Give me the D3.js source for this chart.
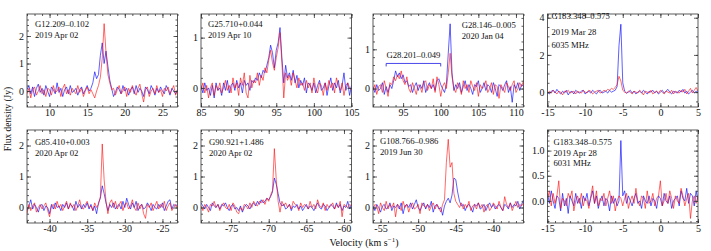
<!DOCTYPE html>
<html>
  <head>
    <meta charset="UTF-8" />
    <script src="https://d3js.org/d3.v7.min.js"></script>
    <style>
      body { margin: 0; background: #fff; }
      svg text { font-family: "Liberation Serif", "Times New Roman", Times, "DejaVu Serif", serif !important; fill: #111; }
    </style>
  </head>
  <body>
    <div id="chart"></div>

    <script>
      // channel grid: first velocity of each panel, channel width 0.25 km/s
      var chanWidth = 0.25;
      var vStart = [7, 85, 91, -15, -43, -79, -56, -15];
      var xDomains = [[7, 27], [85, 105], [91, 111], [-15, 5], [-43, -23], [-79, -59], [-56, -36], [-15, 5]];
      var yDomains = [[-0.58, 2.8], [-0.38, 1.47], [-0.47, 1.9], [-0.8, 4.2], [-0.5, 2.5], [-0.5, 2.5], [-0.5, 2.5], [-0.44, 1.41]];
      var yMajor = [[0, 1, 2], [0, 1], [0, 1], [0, 2, 4], [0, 1, 2], [0, 1, 2], [0, 1, 2], [0, 0.5, 1.0]];
      var yMinorStep = [0.2, 0.2, 0.2, 0.5, 0.2, 0.2, 0.2, 0.1];

      var sourceNames = ["G12.209\u20130.102", "G25.710+0.044", "G28.146\u20130.005", "G183.348\u20130.575",
                         "G85.410+0.003", "G90.921+1.486", "G108.766\u20130.986", "G183.348\u20130.575"];
      var obsDates = ["2019 Apr 02", "2019 Apr 10", "2020 Jan 04", "2019 Mar 28",
                      "2020 Apr 02", "2020 Apr 02", "2019 Jun 30", "2019 Apr 28"];
      var freqNotes = ["", "", "", "6035 MHz", "", "", "", "6031 MHz"];

      // blue spectra (Jy)
      var blue1 = [0.05,0.2,-0.1,0.15,-0.2,0.1,0.25,-0.05,0.1,-0.15, 0.2,0.0,-0.2,0.15,0.05,-0.1,0.3,-0.05,0.1,-0.2,
        0.05,0.15,-0.1,0.2,-0.05,0.0,0.1,-0.15,0.05,0.15, -0.1,0.05,0.2,0.0,0.1,0.3, 0.7,0.45,0.6,1.3,1.75,1.0,1.45,0.9,0.4,0.1,
        -0.2,-0.05,0.15,0.05,-0.1,0.2,0.0,0.1,-0.15,0.05, 0.15,-0.1,0.2,-0.05,0.1,0.0,-0.2,0.15,0.05,-0.1,
        0.2,0.05,-0.15,0.1,-0.05,0.15,0.0,-0.1,0.2,0.05, -0.15,0.1,0.0,-0.1,0.05];
      var blue2 = [0.05,-0.1,0.1,-0.05,0.0,-0.15,0.05,-0.2,0.1,-0.05, 0.0,-0.15,0.1,-0.05,0.15,-0.1,0.05,0.1,-0.05,0.15,
        0.0,0.1,-0.1,0.15,0.05,0.1,-0.05,0.15,0.1,0.2, 0.15,0.3,0.2,0.35,0.3,0.45,0.6,0.85,0.7,0.4,
        0.75,0.9,1.2,0.6,0.1,0.45,0.2,0.3,0.15,0.35, 0.1,0.25,0.0,0.15,0.05,0.2,-0.1,0.1,0.05,-0.05,
        0.1,-0.1,0.05,0.15,-0.05,0.0,0.1,-0.15,0.05,0.2, -0.05,0.1,0.0,0.15,-0.1,0.05,0.3,-0.05,0.1,-0.15, 0.05];
      var blue3 = [0.05,-0.1,0.1,-0.05,0.0,0.15,-0.15,0.05,-0.1,0.1, 0.0,0.2,0.45,0.3,0.4,0.25,0.35,0.15,0.2,0.05,
        0.1,-0.1,0.05,0.15,-0.05,0.1,0.0,0.2,-0.1,0.05, 0.15,0.0,0.1,-0.05,0.2,0.25,0.1,0.0,-0.1,0.1,
        0.9,1.65,0.4,-0.05,0.1,0.0,0.15,-0.1,0.05,0.2, -0.05,0.1,0.0,-0.15,0.1,0.05,0.2,-0.1,0.0,0.15,
        -0.05,0.1,0.05,-0.1,0.15,0.0,-0.2,0.1,0.05,-0.05, 0.1,0.2,-0.1,0.05,-0.35,0.1,0.0,0.15,-0.05,0.1, 0.05];
      var blue4 = [0.0,-0.1,0.05,0.1,-0.05,0.15,0.0,-0.1,0.05,-0.05, 0.1,-0.15,0.0,0.05,-0.1,0.1,0.0,-0.05,0.05,0.1,
        -0.1,0.0,0.05,-0.05,0.1,0.0,-0.1,0.05,0.1,-0.05, 0.0,0.05,-0.05,0.1,0.0,0.05,0.1,0.3,2.5,3.65,
        0.5,0.05,-0.05,0.0,0.1,-0.05,0.05,-0.1,0.0,0.05, -0.05,0.1,0.0,-0.1,0.05,0.0,0.1,-0.05,0.05,-0.1,
        0.0,0.1,-0.05,0.05,0.15,0.0,-0.1,0.05,0.0,-0.05, 0.1,0.0,0.15,-0.05,0.05,-0.1,0.0,0.1,-0.05,0.05, 0.0];
      var blue5 = [-0.1,0.05,0.25,-0.05,0.1,0.0,-0.15,0.05,0.1,-0.1, 0.05,0.0,-0.2,0.1,-0.05,0.15,0.0,0.05,-0.1,0.1,
        0.0,0.15,-0.05,0.1,0.05,-0.1,0.2,0.0,0.1,-0.05, 0.1,0.0,0.15,-0.05,0.1,-0.1,0.05,-0.2,0.15,0.3,
        0.7,0.45,0.15,-0.1,0.1,0.0,0.15,-0.05,0.05,0.1, -0.05,0.2,0.0,0.3,0.1,-0.05,0.15,0.0,0.2,-0.1,
        0.05,0.1,-0.05,0.0,0.15,0.05,-0.1,0.1,0.0,-0.05, 0.1,0.0,0.15,-0.1,0.05,0.2,0.25,-0.05,0.1,0.05, 0.1];
      var blue6 = [0.15,0.05,-0.05,0.1,0.0,-0.1,0.15,0.05,0.0,0.1, -0.05,0.1,0.05,0.15,0.0,-0.1,0.05,0.1,-0.05,0.0,
        -0.1,0.05,-0.15,0.0,0.1,0.05,-0.05,0.1,0.15,0.05, 0.2,0.1,0.25,0.15,0.2,0.3,0.25,0.35,0.5,0.95,
        0.75,0.45,0.15,0.05,0.1,-0.05,0.0,0.1,-0.1,0.05, 0.0,0.1,-0.05,0.05,-0.1,0.0,0.1,-0.05,0.05,0.0,
        -0.1,0.05,0.15,0.0,-0.05,0.1,0.05,-0.1,0.0,0.1, 0.05,-0.05,0.15,0.0,0.1,-0.1,0.05,0.0,0.2,-0.05, 0.1];
      var blue7 = [0.05,-0.1,0.1,0.0,-0.15,0.05,0.1,-0.05,0.0,0.15, -0.1,0.05,0.0,0.1,-0.05,0.15,-0.2,0.05,0.1,0.0,
        0.15,-0.05,0.1,0.25,0.0,-0.1,0.05,0.15,-0.05,0.1, 0.0,0.2,-0.15,0.05,0.1,-0.05,0.0,-0.25,0.05,0.2,
        0.3,0.15,0.4,0.95,0.9,0.5,0.2,0.05,0.1,-0.1, 0.05,0.1,0.0,-0.15,0.1,0.05,0.15,-0.05,0.0,0.1,
        -0.1,0.05,0.15,0.0,0.1,-0.05,0.05,0.1,0.0,-0.1, 0.1,0.05,-0.05,0.15,0.0,0.1,0.05,0.2,-0.05,0.1, 0.25];
      var blue8 = [0.15,-0.05,0.2,0.0,-0.15,0.1,0.05,-0.2,0.15,-0.1, 0.05,-0.25,0.1,0.0,-0.1,0.15,-0.05,0.05,-0.15,0.1,
        0.0,0.15,-0.1,0.05,0.2,-0.05,0.1,-0.15,0.0,0.1, -0.1,0.05,0.0,-0.2,0.1,-0.05,0.05,-0.1,0.0,1.2,
        0.1,0.2,-0.05,0.1,0.0,-0.1,0.05,0.15,-0.05,0.0, -0.15,0.1,0.0,-0.05,0.1,-0.1,0.05,0.0,-0.15,0.1,
        0.05,-0.1,0.15,0.0,-0.05,0.1,-0.15,0.0,0.05,0.1, -0.1,0.2,0.05,0.0,0.25,-0.05,0.15,0.1,-0.1,0.2, 0.0];

      // red spectra (Jy)
      var red1 = [-0.1,0.1,-0.25,0.05,0.15,-0.15,0.0,0.2,-0.1,0.05, -0.2,0.1,0.05,-0.15,0.2,-0.05,0.0,0.15,-0.2,0.1,
        0.25,-0.1,0.05,-0.15,0.1,0.0,-0.1,0.2,-0.05,0.1, -0.2,0.0,0.15,-0.1,0.05,-0.1, -0.25,0.0,0.2,0.5,1.2,2.45,1.4,0.6,0.3,0.05,
        0.1,-0.15,0.05,0.2,-0.1,0.0,0.15,-0.2,0.1,-0.05, 0.2,0.0,-0.15,0.1,0.25,-0.1,-0.4,0.05,0.15,-0.2,
        0.0,0.1,-0.1,0.2,-0.05,0.05,-0.2,0.1,0.0,0.15, -0.1,0.05,0.2,-0.15,0.05];
      var red2 = [-0.05,0.1,-0.1,0.05,-0.2,0.0,0.1,-0.15,0.05,-0.05, 0.1,-0.1,0.0,0.15,-0.05,0.05,-0.1,0.2,0.0,0.1,
        -0.15,0.2,0.05,0.3,-0.1,-0.2,0.25,0.0,0.15,0.1, 0.3,0.05,0.25,0.15,0.4,0.3,0.55,0.75,0.5,0.35,
        0.6,0.8,1.1,0.5,-0.2,0.3,0.15,0.25,0.05,0.3, 0.15,0.0,0.2,0.05,0.1,-0.05,0.15,0.0,0.1,-0.1,
        0.2,0.0,-0.1,0.1,0.05,-0.15,0.1,-0.05,0.15,0.0, 0.1,-0.1,0.2,0.05,-0.05,0.1,-0.15,0.05,0.1,0.0, -0.05];
      var red3 = [-0.05,0.1,-0.15,0.05,0.1,-0.1,0.2,0.0,-0.2,0.15, 0.1,0.3,0.2,0.35,0.25,0.45,0.2,0.1,0.3,0.0,
        -0.1,0.15,0.0,-0.15,0.1,0.05,-0.1,0.15,0.2,-0.05, 0.1,0.0,0.25,-0.1,0.3,0.1,-0.2,0.05,0.15,0.0,
        0.4,0.9,0.3,0.0,-0.1,0.15,0.05,-0.15,0.2,0.0, 0.1,-0.1,0.2,0.05,-0.05,0.15,-0.2,0.1,0.0,0.05,
        0.2,-0.1,0.0,0.15,-0.15,0.1,0.05,-0.25,0.1,0.0, -0.1,0.15,0.05,-0.05,0.1,0.2,-0.1,0.0,0.15,0.05, 0.2];
      var red4 = [-0.1,0.05,-0.05,0.1,0.0,-0.1,0.05,0.0,-0.15,0.05, 0.0,0.1,-0.05,0.0,0.05,-0.1,0.05,0.0,-0.05,0.1,
        0.0,-0.05,0.1,0.05,-0.1,0.0,0.05,0.1,-0.05,0.0, 0.1,0.05,0.15,0.1,0.2,0.15,0.25,0.4,0.85,0.6,
        0.1,0.0,-0.05,0.05,0.0,-0.1,0.05,0.0,-0.05,0.1, 0.0,-0.15,0.05,0.0,-0.05,0.1,-0.1,0.0,0.05,-0.05,
        0.1,0.0,-0.1,0.05,0.0,-0.05,0.1,-0.1,0.05,0.0, -0.05,0.1,0.0,0.15,-0.1,0.05,0.2,-0.05,0.1,0.25, 0.05];
      var red5 = [-0.2,0.1,-0.1,0.05,0.15,-0.15,0.0,0.1,-0.05,0.05, 0.15,-0.1,-0.3,0.05,0.1,-0.05,0.2,0.0,0.1,-0.1,
        0.05,0.2,-0.05,0.15,0.0,0.1,-0.1,0.05,0.25,0.0, -0.05,0.1,0.2,0.0,0.05,-0.1,0.15,0.0,0.1,0.35,
        2.05,0.9,0.2,-0.2,0.15,0.25,0.0,0.2,-0.05,0.1, 0.2,-0.1,0.1,0.15,-0.05,0.05,0.25,0.0,-0.1,0.15,
        -0.05,0.1,-0.2,-0.35,0.1,0.0,0.15,-0.1,0.05,0.2, -0.05,0.1,0.0,0.2,-0.1,0.05,0.15,-0.1,0.0,0.1, -0.05];
      var red6 = [0.05,-0.1,0.1,0.0,-0.15,0.1,0.05,0.2,0.0,0.1, -0.1,0.05,0.15,0.0,-0.05,0.1,-0.1,0.15,0.05,-0.15,
        -0.2,0.0,-0.1,0.1,0.05,-0.05,0.15,0.0,0.2,0.1, 0.05,0.2,0.15,0.25,0.1,0.3,0.2,0.4,0.55,1.9,
        0.9,0.2,-0.15,0.2,0.05,0.15,0.0,0.1,-0.05,0.2, 0.1,0.05,-0.1,0.15,0.0,0.1,0.05,-0.05,0.2,0.0,
        0.1,-0.05,0.25,0.05,0.0,0.15,-0.1,0.1,0.0,0.05, 0.15,-0.05,0.1,0.0,0.2,-0.3,0.1,0.05,0.0,0.1, 0.05];
      var red7 = [-0.1,0.1,0.05,-0.2,0.15,0.0,-0.1,0.2,-0.05,0.1, 0.0,0.15,-0.3,0.1,0.05,-0.1,0.2,0.0,0.1,-0.15,
        0.05,0.15,-0.05,0.0,0.1,-0.2,0.15,0.05,0.0,0.1, -0.1,0.05,0.15,-0.05,0.1,0.0,-0.15,0.1,0.25,1.45,
        2.2,1.3,1.45,0.45,0.2,0.1,0.0,0.15,-0.05,0.1, 0.0,0.2,-0.1,0.05,0.1,-0.05,0.15,0.0,0.1,-0.15,
        0.05,0.1,-0.1,0.0,0.15,0.05,-0.05,0.2,0.0,-0.1, 0.35,0.1,0.0,0.15,-0.1,0.05,0.2,0.0,0.1,0.05, 0.15];
      var red8 = [0.05,0.2,-0.1,0.15,-0.05,0.1,0.4,-0.15,0.05,0.0, -0.1,0.15,0.05,0.2,-0.2,0.0,0.1,-0.05,0.15,-0.1,
        0.05,0.0,-0.15,0.1,0.3,-0.05,0.2,-0.1,0.05,0.0, 0.15,-0.1,0.05,0.2,-0.05,0.1,-0.2,0.0,0.1,0.05,
        -0.1,0.05,0.15,-0.15,0.0,0.1,-0.05,0.25,0.0,-0.1, 0.1,0.05,-0.15,0.2,-0.05,0.0,0.15,-0.1,0.05,0.1,
        0.4,-0.1,0.0,0.15,-0.05,0.2,0.05,-0.15,0.1,0.0, -0.05,0.25,0.1,-0.1,0.05,0.15,-0.35,0.0,0.1,-0.05, 0.1];

      var blueSpectra = [blue1, blue2, blue3, blue4, blue5, blue6, blue7, blue8];
      var redSpectra = [red1, red2, red3, red4, red5, red6, red7, red8];

      // second source marked in the G28.146 panel
      var bracketName = "G28.201\u20130.049";
      var bracketRange = [92.75, 100];
      var bracketLevel = 0.64;

      // layout
      var W = 711, H = 251;
      var colLeft = [27, 201, 373, 547.5];
      var rowTop = [14, 130];
      var pw = 150.5, ph = 93;
      var labelSize = 8.7;
      // label placement per panel: x offset from panel left, baselines relative to panel top
      var labelPos = [
        { x: 8, lines: [13, 24] },
        { x: 7, lines: [13, 23.5] },
        { x: 88.7, lines: [14, 25] },
        { x: 4, lines: [5, 20.5, 34] },
        { x: 8, lines: [14.5, 25.5] },
        { x: 8, lines: [14.5, 26] },
        { x: 7, lines: [13.5, 25] },
        { x: 6, lines: [14.5, 25.5, 36] },
      ];

      var blueColor = "rgba(0,0,255,0.7)";
      var redColor = "rgba(255,0,0,0.65)";
      var frameColor = "#333";

      var svg = d3.select("#chart").append("svg")
        .attr("width", W).attr("height", H);

      svg.append("rect").attr("width", W).attr("height", H).attr("fill", "#fff");

      var fmtPlain = function (d) { return String(d); };
      var fmtOne = function (d) { return d.toFixed(1); };

      for (var p = 0; p < 8; p++) {
        var panelX = colLeft[p % 4], panelY = rowTop[Math.floor(p / 4)];
        var g = svg.append("g").attr("transform", "translate(" + panelX + "," + panelY + ")");

        var x = d3.scaleLinear().domain(xDomains[p]).range([0, pw]);
        var y = d3.scaleLinear().domain(yDomains[p]).range([ph, 0]);

        var xMajorTicks = d3.range(Math.ceil(xDomains[p][0] / 5) * 5, xDomains[p][1] + 0.001, 5);
        var xMinorTicks = d3.range(Math.ceil(xDomains[p][0]), xDomains[p][1] + 0.001, 1);
        var yMinorTicks = d3.range(Math.ceil(yDomains[p][0] / yMinorStep[p]) * yMinorStep[p], yDomains[p][1], yMinorStep[p])
          .map(function (v) { return +v.toFixed(3); });
        var yFmt = p === 7 ? fmtOne : fmtPlain;

        var clipId = "clip" + p;
        g.append("clipPath").attr("id", clipId).append("rect")
          .attr("width", pw).attr("height", ph);

        var line = d3.line()
          .x(function (d, i) { return x(vStart[p] + i * chanWidth); })
          .y(function (d) { return y(d); });

        var plot = g.append("g").attr("clip-path", "url(#" + clipId + ")");
        plot.append("path").datum(blueSpectra[p])
          .attr("fill", "none").attr("stroke", blueColor).attr("stroke-width", 0.9)
          .attr("stroke-linejoin", "round").attr("d", line);
        plot.append("path").datum(redSpectra[p])
          .attr("fill", "none").attr("stroke", redColor).attr("stroke-width", 0.9)
          .attr("stroke-linejoin", "round").attr("d", line);

        // axes, ticks pointing inward on all four sides
        var axes = [
          { ax: d3.axisBottom(x).tickValues(xMajorTicks).tickSize(-4).tickPadding(2).tickFormat(fmtPlain), t: "translate(0," + ph + ")" },
          { ax: d3.axisBottom(x).tickValues(xMinorTicks).tickSize(-2).tickFormat(""), t: "translate(0," + ph + ")" },
          { ax: d3.axisTop(x).tickValues(xMajorTicks).tickSize(-4).tickFormat(""), t: "translate(0,0)" },
          { ax: d3.axisTop(x).tickValues(xMinorTicks).tickSize(-2).tickFormat(""), t: "translate(0,0)" },
          { ax: d3.axisLeft(y).tickValues(yMajor[p]).tickSize(-4).tickPadding(3).tickFormat(yFmt), t: "translate(0,0)" },
          { ax: d3.axisLeft(y).tickValues(yMinorTicks).tickSize(-2).tickFormat(""), t: "translate(0,0)" },
          { ax: d3.axisRight(y).tickValues(yMajor[p]).tickSize(-4).tickFormat(""), t: "translate(" + pw + ",0)" },
          { ax: d3.axisRight(y).tickValues(yMinorTicks).tickSize(-2).tickFormat(""), t: "translate(" + pw + ",0)" },
        ];
        axes.forEach(function (a) {
          var ag = g.append("g").attr("transform", a.t).call(a.ax);
          ag.attr("font-family", null);
          ag.select(".domain").remove();
          ag.selectAll("line").attr("stroke", frameColor).attr("stroke-width", 0.8);
          ag.selectAll("text").attr("font-size", 10).attr("fill", "#111");
        });

        g.append("rect").attr("width", pw).attr("height", ph)
          .attr("fill", "none").attr("stroke", frameColor).attr("stroke-width", 0.8);

        // panel labels
        var lp = labelPos[p];
        var texts = [sourceNames[p], obsDates[p]];
        if (freqNotes[p]) texts.push(freqNotes[p]);
        texts.forEach(function (t, k) {
          g.append("text").attr("x", lp.x).attr("y", lp.lines[k])
            .attr("font-size", labelSize).text(t);
        });

        if (p === 2) {
          var bx0 = x(bracketRange[0]), bx1 = x(bracketRange[1]), by = y(bracketLevel);
          g.append("path")
            .attr("d", "M" + bx0 + "," + (by + 3) + "V" + by + "H" + bx1 + "V" + (by + 3))
            .attr("fill", "none").attr("stroke", "rgba(40,40,230,0.85)").attr("stroke-width", 1);
          g.append("text").attr("x", (bx0 + bx1) / 2).attr("y", by - 5)
            .attr("text-anchor", "middle").attr("font-size", labelSize).text(bracketName);
        }
      }

      // axis titles
      svg.append("text")
        .attr("transform", "translate(11,119) rotate(-90)")
        .attr("text-anchor", "middle").attr("font-size", 9.5)
        .text("Flux density (Jy)");

      var xt = svg.append("text").attr("x", 364).attr("y", 246)
        .attr("text-anchor", "middle").attr("font-size", 10);
      xt.append("tspan").text("Velocity (km s");
      xt.append("tspan").attr("dy", -4).attr("font-size", 7).text("\u22121");
      xt.append("tspan").attr("dy", 4).text(")");
    </script>
  </body>
</html>
